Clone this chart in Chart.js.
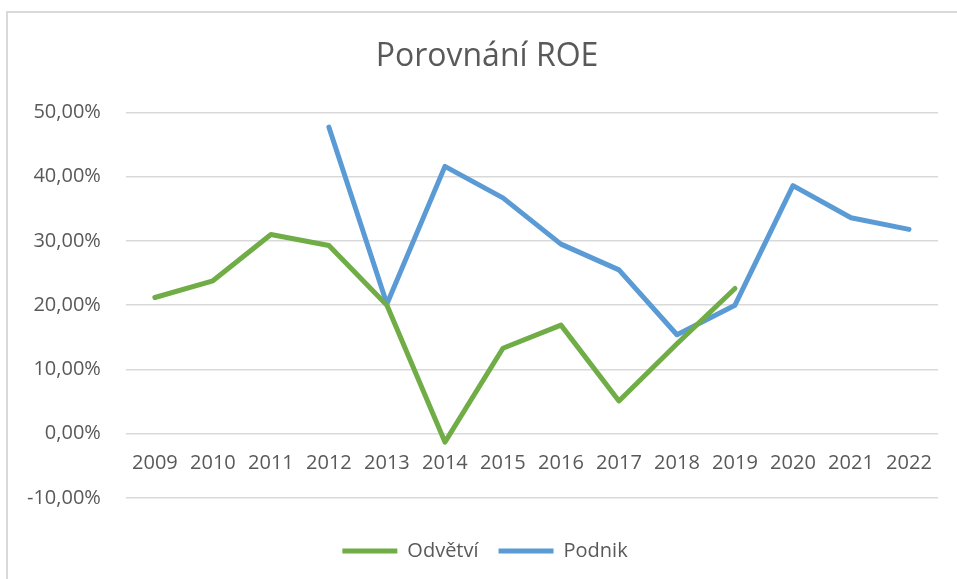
<!DOCTYPE html>
<html>
<head>
<meta charset="utf-8">
<script src="https://cdn.jsdelivr.net/npm/chart.js@4/dist/chart.umd.min.js"></script>
<style>
  html, body { margin: 0; padding: 0; background: #fff; }
  #wrap { position: relative; width: 957px; height: 579px; overflow: hidden; }
  #frame { position: absolute; left: 6px; top: 11px; width: 1200px; height: 800px; border-left: 2px solid #D9D9D9; border-top: 2px solid #D9D9D9; }
  canvas { position: absolute; left: 0; top: 0; }
</style>
</head>
<body>
<div id="wrap">
  <div id="frame"></div>
  <canvas id="c" width="957" height="579"></canvas>
</div>
<script>
const years = ["2009","2010","2011","2012","2013","2014","2015","2016","2017","2018","2019","2020","2021","2022"];
const odvetvi = [21.2, 23.8, 31.0, 29.3, 20.0, -1.3, 13.3, 16.9, 5.1, 14.0, 22.6, null, null, null];
const podnik = [null, null, null, 47.7, 20.2, 41.6, 36.7, 29.5, 25.5, 15.4, 20.0, 38.6, 33.6, 31.8];
const yTicks = [-10, 0, 10, 20, 30, 40, 50];

const FONT = "'Open Sans', 'Liberation Sans', sans-serif";
const TXT = '#595959';

// The original frame extends past the right edge, so title and legend are centred a little right.
const shiftBlocks = {
  id: 'shiftBlocks',
  afterLayout(chart) {
    if (chart.titleBlock) { chart.titleBlock.left += 17; chart.titleBlock.right += 17; }
    if (chart.legend) { chart.legend.left += 15; chart.legend.right += 15; }
  }
};

new Chart(document.getElementById('c'), {
  type: 'line',
  data: {
    labels: years,
    datasets: [
      { label: 'Odvětví', data: odvetvi, borderColor: '#70AD47', backgroundColor: '#70AD47',
        borderWidth: 5, pointRadius: 0, pointHoverRadius: 0, tension: 0, spanGaps: false,
        borderCapStyle: 'round', borderJoinStyle: 'round' },
      { label: 'Podnik', data: podnik, borderColor: '#5B9BD5', backgroundColor: '#5B9BD5',
        borderWidth: 5, pointRadius: 0, pointHoverRadius: 0, tension: 0, spanGaps: false,
        borderCapStyle: 'round', borderJoinStyle: 'round' }
    ]
  },
  plugins: [shiftBlocks],
  options: {
    responsive: false,
    animation: false,
    devicePixelRatio: 1,
    layout: { padding: { left: 2, right: 19, top: 0, bottom: 8 } },
    plugins: {
      title: {
        display: true, text: 'Porovnání ROE', color: TXT,
        font: { family: FONT, size: 32, weight: 'normal' },
        padding: { top: 38, bottom: 36 }
      },
      legend: {
        position: 'bottom',
        title: { display: true, text: ' ', font: { size: 10 }, padding: { top: 11, bottom: 0 } },
        labels: {
          color: TXT, font: { family: FONT, size: 20 },
          usePointStyle: true, pointStyle: 'line', pointStyleWidth: 55,
          padding: 20
        }
      },
      tooltip: { enabled: false }
    },
    scales: {
      x: {
        position: { y: 0 },
        offset: true,
        grid: { display: false, drawTicks: false },
        border: { display: false },
        ticks: { color: TXT, font: { family: FONT, size: 20 }, padding: 18, maxRotation: 0, autoSkip: false }
      },
      y: {
        min: -10, max: 50,
        afterBuildTicks: (axis) => { axis.ticks = yTicks.map(v => ({ value: v })); },
        grid: { color: '#D9D9D9', lineWidth: 1.5, drawTicks: false },
        border: { display: false },
        ticks: {
          color: TXT, font: { family: FONT, size: 20 }, padding: 25,
          callback: (v) => v.toFixed(2).replace('.', ',') + '%'
        }
      }
    }
  }
});
</script>
</body>
</html>
